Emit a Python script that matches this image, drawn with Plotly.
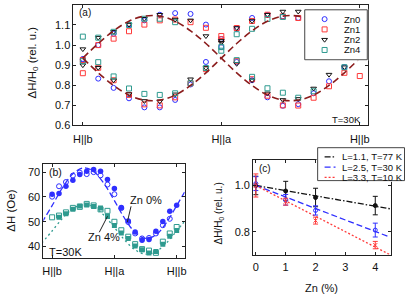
import plotly.graph_objects as go

W, H = 407, 301
FONT = "Liberation Sans, Arial, sans-serif"

# ---------------- panel (a) data ----------------
angles_a = [0, 10, 20, 30, 40, 50, 60, 70, 80, 90, 100, 110, 120, 130, 140, 150, 160, 170, 180]
fit_a_up = [0.935, 1.008, 1.071, 1.119, 1.144, 1.144, 1.119, 1.071, 1.008, 0.935,
            0.862, 0.799, 0.751, 0.726, 0.726, 0.751, 0.799, 0.862, 0.935]
fit_a_dn = [0.935, 0.862, 0.799, 0.751, 0.726, 0.726, 0.751, 0.799, 0.862, 0.935,
            1.008, 1.071, 1.119, 1.144, 1.144, 1.119, 1.071, 1.008, 0.935]

zn0_up = [0.931, 1.000, 1.056, 1.102, 1.123, 1.151, 1.159, 1.155, 1.102, 1.030,
          0.916, 0.825, 0.740, 0.698, 0.706, 0.760, 0.820, 0.890, None]
zn0_dn = [0.928, 0.833, 0.787, 0.735, 0.690, 0.690, 0.727, 0.804, 0.916, 0.990,
          1.081, 1.135, 1.150, 1.143, 1.135, None, None, None, None]
zn1_up = [0.926, 1.000, 1.032, 1.069, 1.102, 1.123, 1.127, 1.114, 1.086, 1.045,
          0.920, 0.830, 0.748, 0.700, 0.699, 0.738, 0.795, 0.862, 0.846]
zn1_dn = [0.860, 0.887, 0.825, 0.752, 0.705, 0.700, 0.740, 0.810, 0.880, 1.029,
          1.085, 1.120, 1.151, 1.143, 1.135, None, None, None, None]
zn2_up = [0.980, 1.037, 1.066, 1.102, 1.131, 1.151, 1.127, 1.123, 1.045, 1.012,
          0.907, 0.825, 0.760, 0.727, 0.732, 0.784, 0.853, 0.890, None]
zn2_dn = [0.900, 0.887, 0.825, 0.756, 0.722, 0.720, 0.755, 0.830, 0.886, 1.021,
          1.085, 1.120, 1.151, 1.167, 1.167, None, None, None, None]
zn4_up = [1.042, 1.037, 1.066, 1.100, 1.131, 1.131, 1.114, None, None, 0.972,
          0.925, 0.842, 0.785, 0.763, 0.738, 0.770, None, 0.890, None]
zn4_dn = [0.920, 0.915, 0.844, 0.784, 0.757, 0.752, 0.760, 0.810, 0.886, 0.990,
          1.054, 1.081, 1.130, 1.140, None, None, None, None, None]
xticks_a = [0, 90, 180]
xlabels_a = ["H||b", "H||a", "H||b"]
yticks_a = [0.6, 0.7, 0.8, 0.9, 1.0, 1.1, 1.2]

# ---------------- panel (b) data ----------------
angles_b = [0, 10, 20, 30, 40, 50, 60, 70, 80, 90, 100, 110, 120, 130, 140, 150, 160, 170, 180]
zn0_b_filled = [61.1, 61.4, 64.3, 66.7, 69.0, 70.3, 71.0, 70.3, 67.0, 63.4,
                55.8, 50.3, 45.9, 42.6, 42.9, 46.2, 50.1, 54.2, 56.7]
zn0_b_open = [60.1, 64.3, 66.0, 68.6, 69.8, 69.2, 70.0, 68.7, 65.0, 61.1,
              55.5, 49.9, 45.3, 43.3, 43.5, 45.3, 48.6, 51.2, None]
zn4_b_filled = [None, 51.8, 53.2, 55.0, 56.4, 56.8, 56.2, 55.5, 52.1, 48.5,
                45.5, 43.3, 40.3, 38.7, 37.4, 38.0, 41.0, 44.2, 46.5]
zn4_b_open = [51.8, 52.5, 53.8, 55.6, 56.0, 57.2, 56.6, 55.0, 54.4, 50.0,
              46.6, 44.0, 41.0, 39.0, 38.4, 37.5, 42.0, 45.3, 47.9]
fit_angles_b = [-15, 0, 15, 30, 45, 60, 75, 90, 105, 120, 135, 150, 165, 180, 195]
fit_b_zn0 = [49.6, 56.5, 63.7, 69.3, 71.7, 70.3, 65.4, 58.5, 51.3, 45.7, 43.3, 44.7, 49.6, 56.5, 63.7]
fit_b_zn4 = [41.4, 46.3, 51.4, 55.3, 57.0, 56.0, 52.6, 47.7, 42.6, 38.7, 37.0, 38.0, 41.4, 46.3, 51.4]
yticks_b = [40, 50, 60, 70]

# ---------------- panel (c) data ----------------
zn_c = [0, 1, 2, 4]
c_l11 = [1.000, 0.976, 0.948, 0.913]
c_l11_err = [0.04, 0.042, 0.04, 0.04]
c_l25 = [1.008, 0.938, 0.892, 0.807]
c_l25_err = [0.03, 0.023, 0.02, 0.03]
c_l33 = [1.000, 0.930, 0.848, 0.742]
c_l33_err = [0.05, 0.015, 0.015, 0.016]
fit_zn_c = [0, 4.5]
fit_c_l11 = [1.0, 0.899]
fit_c_l25 = [1.0, 0.776]
fit_c_l33 = [1.0, 0.700]
legend_c = ["L=1.1, T=77 K", "L=2.5, T=30 K", "L=3.3, T=10 K"]

BLUE = "#2f2fff"
RED = "#ff3a3a"
TEAL = "#2e9a8f"
DRED = "#8b1c1c"
BLK = "#111111"


def px(x):
    return x / W


def py(y):
    return 1 - y / H


fig = go.Figure()

# (a) points
for up, dn, sym, col in [(zn0_up, zn0_dn, "circle-open", BLUE),
                         (zn1_up, zn1_dn, "square-open", RED),
                         (zn2_up, zn2_dn, "triangle-down-open", BLK),
                         (zn4_up, zn4_dn, "square-open", TEAL)]:
    for arr in (up, dn):
        fig.add_trace(go.Scatter(x=angles_a, y=arr, mode="markers", xaxis="x", yaxis="y",
                                 marker=dict(symbol=sym, color=col, size=5, line=dict(width=1, color=col)),
                                 showlegend=False))
for arr in (fit_a_up, fit_a_dn):
    fig.add_trace(go.Scatter(x=angles_a, y=arr, mode="lines", xaxis="x", yaxis="y",
                             line=dict(color=DRED, width=1.6, dash="7px,4px", shape="spline"),
                             showlegend=False))

# (b)
fig.add_trace(go.Scatter(x=fit_angles_b, y=fit_b_zn0, mode="lines", xaxis="x2", yaxis="y2",
                         line=dict(color=BLUE, width=1.3, dash="6px,3px", shape="spline"), showlegend=False))
fig.add_trace(go.Scatter(x=fit_angles_b, y=fit_b_zn4, mode="lines", xaxis="x2", yaxis="y2",
                         line=dict(color=TEAL, width=1.3, dash="2px,3px", shape="spline"), showlegend=False))
fig.add_trace(go.Scatter(x=angles_b, y=zn0_b_open, mode="markers", xaxis="x2", yaxis="y2",
                         marker=dict(symbol="circle-open", color=BLUE, size=5, line=dict(width=1)), showlegend=False))
fig.add_trace(go.Scatter(x=angles_b, y=zn0_b_filled, mode="markers", xaxis="x2", yaxis="y2",
                         marker=dict(symbol="circle", color=BLUE, size=5.5), showlegend=False))
fig.add_trace(go.Scatter(x=angles_b, y=zn4_b_open, mode="markers", xaxis="x2", yaxis="y2",
                         marker=dict(symbol="square-open", color=TEAL, size=5, line=dict(width=1)), showlegend=False))
fig.add_trace(go.Scatter(x=angles_b, y=zn4_b_filled, mode="markers", xaxis="x2", yaxis="y2",
                         marker=dict(symbol="square", color=TEAL, size=5), showlegend=False))

# (c)
for fy, col, dash in [(fit_c_l11, BLK, "6px,2px,1.5px,2px"), (fit_c_l25, BLUE, "6px,3px"), (fit_c_l33, RED, "2px,2px")]:
    fig.add_trace(go.Scatter(x=fit_zn_c, y=fy, mode="lines", xaxis="x3", yaxis="y3",
                             line=dict(color=col, width=1.3, dash=dash), showlegend=False))
for yy, ee, col, sym in [(c_l11, c_l11_err, BLK, "circle"), (c_l25, c_l25_err, BLUE, "circle-open"),
                         (c_l33, c_l33_err, RED, "x-thin-open")]:
    fig.add_trace(go.Scatter(x=zn_c, y=yy, mode="markers", xaxis="x3", yaxis="y3",
                             error_y=dict(type="data", array=ee, color=col, thickness=1, width=2.5),
                             marker=dict(symbol=sym, color=col, size=4, line=dict(width=1, color=col)),
                             showlegend=False))

# manual legend (a) in its own overlay subplot (pixel units)
fig.add_trace(go.Scatter(x=[306, 369, 369, 306, 306], y=[10, 10, 61, 61, 10], mode="lines", fill="toself",
                         fillcolor="white", line=dict(color="#444", width=1), xaxis="x4", yaxis="y4",
                         showlegend=False, hoverinfo="skip"))
leg_a = [("Zn0", "circle-open", BLUE), ("Zn1", "square-open", RED), ("Zn2", "triangle-down-open", BLK),
         ("Zn4", "square-open", TEAL)]
leg_a_y = [19.5, 30, 40.5, 51]
for (name, sym, col), yy in zip(leg_a, leg_a_y):
    fig.add_trace(go.Scatter(x=[326], y=[yy], mode="markers", xaxis="x4", yaxis="y4",
                             marker=dict(symbol=sym, color=col, size=5, line=dict(width=1, color=col)),
                             showlegend=False, hoverinfo="skip"))

# manual legend (c)
fig.add_trace(go.Scatter(x=[319, 406.5, 406.5, 319, 319], y=[150.7, 150.7, 184.3, 184.3, 150.7], mode="lines",
                         fill="toself", fillcolor="white", line=dict(color="#444", width=1), xaxis="x5", yaxis="y5",
                         showlegend=False, hoverinfo="skip"))
leg_c_y = [160, 170.5, 181]
for yy, col, dash in zip(leg_c_y, [BLK, BLUE, RED], ["6px,2px,1.5px,2px", "6px,3px", "2px,2px"]):
    fig.add_trace(go.Scatter(x=[326, 337], y=[yy, yy], mode="lines", xaxis="x5", yaxis="y5",
                             line=dict(color=col, width=1.3, dash=dash), showlegend=False, hoverinfo="skip"))

axc = dict(showline=True, linecolor="#222", linewidth=1, mirror="ticks", ticks="inside", ticklen=3,
           tickcolor="#222", showgrid=False, zeroline=False, tickfont=dict(size=11, color="#111", family=FONT))

layout = dict(
    width=W, height=H, margin=dict(l=0, r=0, t=0, b=0), paper_bgcolor="white", plot_bgcolor="white",
    font=dict(family=FONT, color="#111"), showlegend=False,
    xaxis=dict(axc, domain=[px(73), px(369.5)], range=[-6.1, 185.2], anchor="y", ticklabelstandoff=3,
               tickmode="array", tickvals=xticks_a, ticktext=xlabels_a),
    yaxis=dict(axc, domain=[py(128), py(5)], range=[0.6, 1.2], anchor="x",
               tickmode="array", tickvals=yticks_a, ticktext=[f"{v:.1f}" for v in yticks_a]),
    xaxis2=dict(axc, domain=[px(42.7), px(185)], range=[-12.6, 191.5], anchor="y2", ticklabelstandoff=3,
                tickmode="array", tickvals=xticks_a, ticktext=xlabels_a),
    yaxis2=dict(axc, domain=[py(263.3), py(167.5)], range=[35.4, 73.2], anchor="x2",
                tickmode="array", tickvals=yticks_b),
    xaxis3=dict(axc, domain=[px(254), px(392.7)], range=[-0.09, 4.52], anchor="y3", ticklabelstandoff=2,
                tickmode="array", tickvals=[0, 1, 2, 3, 4]),
    yaxis3=dict(axc, domain=[py(260), py(163.3)], range=[0.70, 1.11], anchor="x3",
                tickmode="array", tickvals=[0.8, 1.0], ticktext=["0.8", "1.0"]),
    xaxis4=dict(domain=[px(305), px(370)], range=[305, 370], visible=False, anchor="y4"),
    yaxis4=dict(domain=[py(62), py(9)], range=[62, 9], visible=False, anchor="x4"),
    xaxis5=dict(domain=[px(318), 1.0], range=[318, 407], visible=False, anchor="y5"),
    yaxis5=dict(domain=[py(185.5), py(149.5)], range=[185.5, 149.5], visible=False, anchor="x5"),
)
fig.update_layout(**layout)


def txt(x, y, s, size=11, xa="center", ya="middle", angle=0):
    fig.add_annotation(x=px(x), y=py(y), xref="paper", yref="paper", text=s, showarrow=False,
                       xanchor=xa, yanchor=ya, textangle=angle,
                       font=dict(size=size, family=FONT, color="#111"))


txt(77, 12.5, "(a)", 10, xa="left")
txt(365, 121.7, "T=30K", 9.5, xa="right")
txt(32.5, 63.5, "ΔH/H<sub>0</sub> (rel. u.)", 11.5, angle=-90)
for (name, _, _), yy in zip(leg_a, leg_a_y):
    txt(344, yy, name, 9.5, xa="left")

txt(46.7, 176, "(b)", 10.5, xa="left")
txt(46.7, 257.5, "T=30K", 11, xa="left")
txt(146.5, 204, "Zn 0%", 11)
txt(104, 241.7, "Zn 4%", 11)
txt(10, 215, "ΔH (Oe)", 11.5, angle=-90)
fig.add_shape(type="line", xref="paper", yref="paper", x0=px(131), y0=py(210.5), x1=px(127.3), y1=py(226.5),
              line=dict(color="#222", width=1))
fig.add_shape(type="line", xref="paper", yref="paper", x0=px(99), y0=py(237), x1=px(107.3), y1=py(220.7),
              line=dict(color="#222", width=1))

txt(258, 171.5, "(c)", 10, xa="left")
txt(220, 217.5, "ΔH/H<sub>0</sub> (rel. u.)", 10, angle=-90)
txt(323, 294, "Zn (%)", 11)
for s, yy in zip(legend_c, leg_c_y):
    txt(341.7, yy, s, 9.5, xa="left")

fig.write_html("out.html", config={"displayModeBar": False},
               post_script="document.body.style.margin='0';document.body.style.overflow='hidden';")
